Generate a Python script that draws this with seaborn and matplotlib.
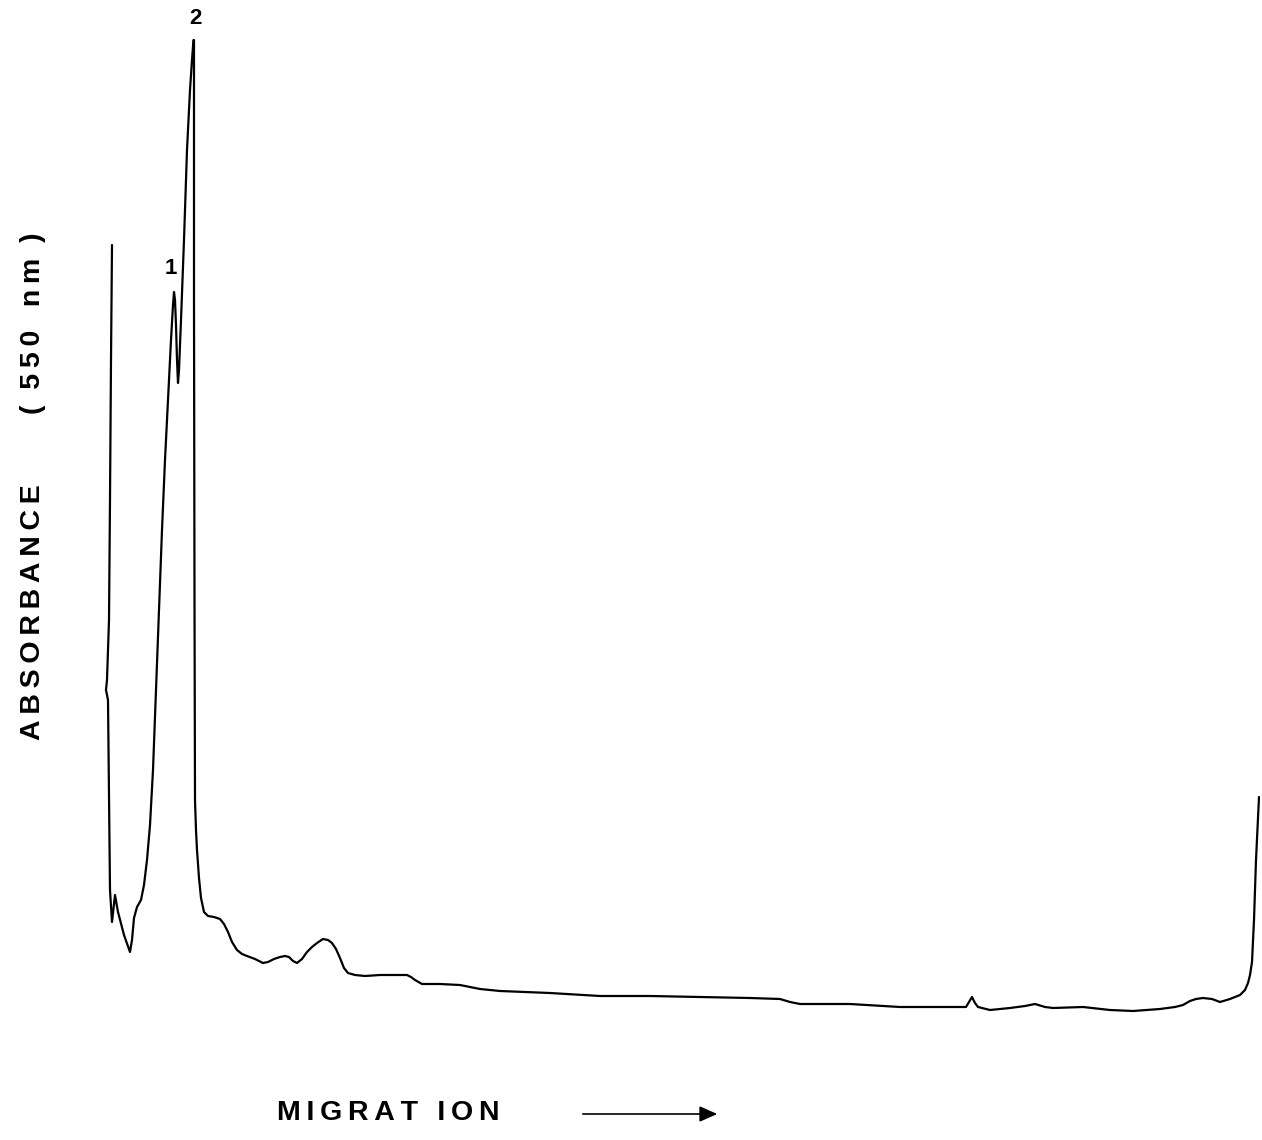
import matplotlib
matplotlib.use("Agg")
import matplotlib.pyplot as plt
import seaborn as sns
import pandas as pd

# Densitometer trace: migration distance vs absorbance (arbitrary units)
migration = [112, 111, 110, 109, 107, 106, 108, 109, 110, 112, 115, 118, 124, 130, 132,
             134, 137, 141, 144, 147, 150, 153, 156, 159, 162, 165, 167, 169, 171, 173,
             174, 175, 176, 177, 178, 179, 181, 184, 187, 190, 192, 193.5,
             194, 194, 194.5, 195, 196, 197, 199, 201, 204, 208, 214, 220, 224, 228, 232,
             237, 242, 247, 255, 263, 268, 274, 280, 285, 289, 293, 297, 302, 307, 312, 317,
             323, 328, 332, 336, 340, 344, 348, 355, 365, 380, 395, 407, 411, 415, 422,
             440, 460, 480, 500, 550, 600, 650, 700, 750, 780, 790, 800, 850,
             900, 940, 966, 969, 972, 975, 978, 990, 1010, 1025, 1035, 1045, 1053, 1083,
             1110, 1133, 1160, 1175, 1183, 1190, 1196, 1203, 1212, 1220, 1230, 1240, 1245,
             1248, 1250, 1252, 1254, 1256, 1259]
absorbance = [895, 780, 640, 520, 460, 450, 440, 340, 250, 218, 245, 228, 205, 188, 200,
              222, 233, 240, 255, 280, 315, 370, 450, 530, 610, 680, 720, 760, 800, 835,
              848, 840, 815, 780, 757, 770, 820, 900, 990, 1050, 1080, 1100,
              1100, 840, 540, 340, 310, 290, 262, 242, 228, 224, 223, 221, 216, 208, 198,
              190, 186, 184, 181, 177, 178, 181, 183, 184, 183, 179, 177, 181, 188, 193, 197,
              201, 200, 197, 191, 182, 172, 167, 165, 164, 165, 165, 165, 163, 160, 156,
              156, 155, 151, 149, 147, 144, 144, 143, 142, 141, 138, 136, 136,
              133, 133, 133, 138, 143, 137, 133, 130, 132, 134, 136, 133, 132, 133,
              130, 129, 131, 133, 135, 139, 141, 142, 141, 138, 141, 145, 150,
              157, 165, 178, 220, 280, 343]

peak_labels = ["1", "2"]
peak_x = [171, 195]
peak_y = [872, 1122]

ylabel_main = "A\u2009B\u2009S\u2009O\u2009R\u2009B\u2009A\u2009N\u2009C\u2009E"
ylabel_unit = "(  5\u20095\u20090   n\u2009m  )"
xlabel = "M\u2009I\u2009G\u2009R\u2009A\u2009T\u2009 \u2009I\u2009O\u2009N"

sns.set_theme(style="white")
plt.rcParams['font.family'] = ['Liberation Sans', 'DejaVu Sans']
plt.rcParams['text.color'] = 'black'

fig = plt.figure(figsize=(12.62, 11.4), dpi=100)
ax = fig.add_axes([0, 0, 1, 1])

df = pd.DataFrame({"migration": migration, "absorbance": absorbance})
sns.lineplot(data=df, x="migration", y="absorbance", sort=False, estimator=None,
             color="black", linewidth=1.6, ax=ax)

ax.set_xlim(0, 1262)
ax.set_ylim(0, 1140)
ax.axis("off")

for lab, px, py in zip(peak_labels, peak_x, peak_y):
    ax.text(px, py, lab, ha="center", va="center", fontsize=16, fontweight="bold",
            color="black")

ax.text(33, 1140 - 612, ylabel_main, rotation=90, ha="center", va="center",
        fontsize=20.5, fontweight="bold", color="black")
ax.text(33, 1140 - 323, ylabel_unit, rotation=90, ha="center", va="center",
        fontsize=20.5, fontweight="bold", color="black")

ax.text(388, 1140 - 1113, xlabel, ha="center", va="center",
        fontsize=20.5, fontweight="bold", color="black")
ax.annotate("", xy=(720, 1140 - 1114), xytext=(580, 1140 - 1114),
            arrowprops=dict(arrowstyle="-|>,head_length=0.9,head_width=0.4",
                            color="black", lw=1.2))

fig.savefig("out.png", dpi=100, facecolor="white")
